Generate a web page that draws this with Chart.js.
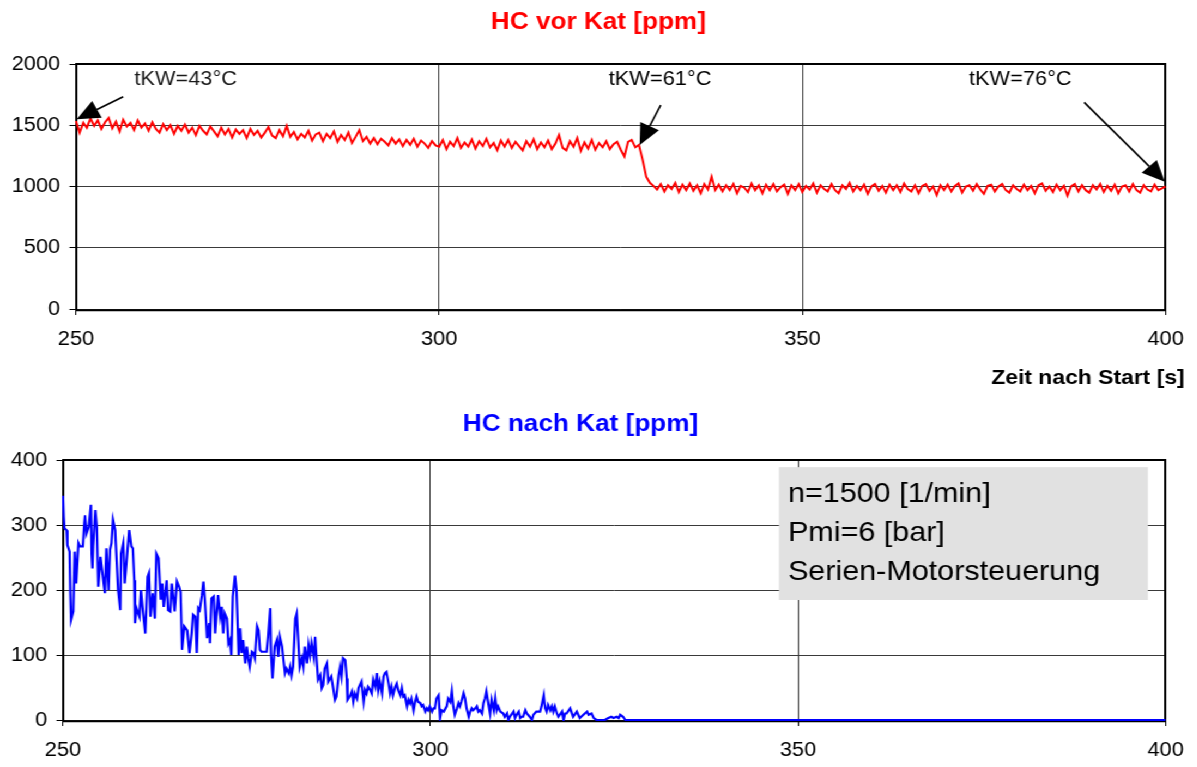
<!DOCTYPE html>
<html><head><meta charset="utf-8">
<script src="https://cdn.jsdelivr.net/npm/chart.js@4.4.0/dist/chart.umd.min.js"></script>
<style>
html,body{margin:0;padding:0;background:#fff;overflow:hidden;}
#wrap{position:absolute;left:0;top:0;width:1098px;height:767px;transform:scaleX(1.09);transform-origin:0 0;}
#c1{position:absolute;left:0;top:0;}
#c2{position:absolute;left:0;top:395px;}
</style></head><body>
<div id="wrap">
<canvas id="c1" width="1098" height="395"></canvas>
<canvas id="c2" width="1098" height="372"></canvas>
</div>
<script>
// ---------- data ----------
const xTicks = [250, 300, 350, 400];
const vorTicks = [0, 500, 1000, 1500, 2000];
const nachTicks = [0, 100, 200, 300, 400];

// HC vor Kat [ppm], sampled every 0.5 s from 250 s
const vorStart = 250, vorStep = 0.5;
const vorV = [
1535,1440,1520,1480,1555,1495,1540,1470,1525,1560,
1475,1530,1450,1545,1490,1520,1460,1540,1480,1515,
1455,1525,1470,1440,1510,1460,1500,1430,1495,1455,
1505,1440,1480,1420,1495,1455,1425,1490,1450,1410,
1480,1425,1470,1400,1465,1430,1460,1395,1470,1420,
1455,1400,1440,1485,1415,1395,1460,1410,1495,1405,
1445,1385,1430,1400,1455,1375,1425,1440,1370,1430,
1395,1450,1365,1420,1380,1440,1355,1405,1460,1370,
1405,1350,1395,1345,1390,1365,1335,1395,1350,1385,
1330,1380,1340,1390,1325,1375,1350,1315,1370,1335,
1325,1380,1305,1365,1330,1395,1315,1360,1325,1385,
1310,1370,1330,1390,1320,1355,1295,1375,1325,1380,
1315,1365,1330,1295,1370,1325,1385,1305,1360,1320,
1375,1305,1350,1420,1315,1295,1370,1325,1395,1290,
1360,1310,1380,1300,1355,1320,1370,1305,1345,1365,
1300,1245,1365,1380,1320,1340,1220,1080,1030,1005,
975,1020,960,1010,980,1030,955,1015,970,1025,
965,1010,945,1020,975,1080,970,1015,960,1010,
970,1020,945,1005,990,955,1025,970,1010,945,
1015,970,1020,960,995,1015,940,1010,970,1020,
955,1005,975,1025,950,1010,980,960,1020,970,
945,1010,980,1030,960,1005,970,1015,940,1000,
1020,965,1005,950,1015,970,1010,955,1025,980,
960,1010,945,1005,1020,965,1000,930,1010,970,
1015,960,1005,1025,950,1000,1010,965,1020,975,
940,1005,1015,960,1000,1020,970,950,1010,980,
960,1015,970,1005,945,1010,1025,965,1000,955,
1015,970,1005,925,1000,1020,960,1010,970,950,
1010,975,1020,955,1005,965,1015,945,1000,1010,
960,1020,970,950,1010,975,960,1015,970,985,
1000];

// HC nach Kat [ppm]: time [s] and value
const nachT = [
250.0,250.1,250.2,250.5,250.6,250.9,251.0,251.1,251.4,251.6,251.8,252.1,252.3,252.7,252.9,253.0,253.2,253.5,253.8,253.9,
254.0,254.1,254.4,254.6,254.8,255.1,255.4,255.7,255.9,256.2,256.4,256.6,256.8,257.1,257.3,257.5,257.8,257.9,258.2,258.4,
258.7,259.0,259.3,259.5,259.7,259.8,260.0,260.4,260.6,260.9,261.2,261.5,261.7,261.9,262.2,262.5,262.7,263.0,263.3,263.5,
263.7,264.1,264.3,264.6,264.8,265.0,265.2,265.5,265.8,266.0,266.2,266.5,266.7,266.9,267.2,267.5,267.7,268.0,268.2,268.4,
268.6,268.9,269.1,269.3,269.6,269.9,
270.0,270.2,270.5,270.7,270.9,271.1,271.4,271.6,271.8,272.0,272.3,272.5,272.7,272.9,273.1,273.4,273.6,273.9,274.1,274.3,
274.5,274.8,275.0,275.2,275.4,275.7,275.9,276.1,276.4,276.6,276.8,277.0,277.5,277.7,277.9,278.2,278.3,278.5,278.8,279.1,
279.3,279.5,279.8,280.0,280.2,280.4,280.7,280.9,281.1,281.3,281.6,281.8,282.0,282.2,282.5,282.7,282.9,283.2,283.4,283.6,
283.8,284.1,284.3,284.5,284.7,285.0,285.2,285.4,285.6,285.9,286.1,286.5,286.8,287.0,287.2,287.5,287.7,287.9,288.1,288.4,
288.6,288.7,
289.0,289.3,289.5,289.7,290.0,290.2,290.4,290.6,290.9,291.1,291.3,291.5,291.8,292.0,292.2,292.5,292.7,292.9,293.1,293.4,
293.6,293.8,294.0,294.3,294.5,294.7,294.9,295.2,295.4,295.6,295.9,296.1,296.3,296.5,296.8,297.0,297.2,297.4,297.7,297.9,
298.1,298.3,298.6,298.8,299.0,299.3,299.5,299.7,299.9,300.2,300.4,300.6,300.8,301.1,301.3,301.5,301.8,302.2,302.4,302.7,
302.9,303.1,303.3,303.6,303.8,304.0,304.2,304.5,304.7,304.9,305.2,305.4,305.6,305.8,306.1,306.3,306.5,306.7,307.0,307.2,
307.4,307.6,307.9,
308.1,308.3,308.6,308.8,309.0,309.2,309.5,309.9,310.1,310.4,310.6,310.8,311.3,311.5,311.7,312.0,312.2,312.4,312.6,312.9,
313.1,313.5,313.8,314.0,314.4,314.9,315.1,315.4,315.6,315.8,316.0,316.3,316.5,316.7,316.9,317.2,317.4,317.9,318.1,318.3,
318.5,319.0,319.4,319.9,320.3,320.8,321.3,321.5,321.9,322.2,322.6,323.1,323.7,324.2,324.6,324.9,325.3,325.6,325.8,326.2,
326.5,400.0];
const nachV = [
345,313,295,292,269,259,195,154,167,259,210,272,267,267,303,315,287,297,331,256,
233,267,323,297,205,251,223,195,264,200,262,272,308,292,244,200,169,256,272,210,
251,292,267,264,215,149,172,159,200,164,133,220,226,159,195,156,256,249,185,210,
174,215,169,167,210,190,167,213,205,197,108,144,141,138,103,133,162,159,103,172,
169,192,213,185,126,149,
118,187,190,133,164,192,159,174,133,164,156,118,123,100,190,222,200,100,141,103,
123,87,113,95,82,105,103,95,144,138,108,105,105,105,128,172,103,64,113,123,
97,128,113,92,72,79,72,82,69,82,156,164,123,82,95,82,113,87,115,100,
118,97,128,92,62,69,49,54,79,87,59,67,46,31,36,69,82,67,95,92,
64,31,
36,44,28,41,33,49,54,59,28,46,41,51,46,41,62,51,72,46,59,41,
67,72,74,56,41,51,38,51,56,46,38,49,36,38,21,31,26,33,15,28,
36,28,26,21,23,13,18,15,21,13,18,18,33,38,3,15,13,21,33,28,
44,21,8,18,26,21,28,41,33,18,5,13,18,15,18,21,13,15,10,26,
33,44,23,
10,31,15,33,15,21,13,10,5,10,0,5,13,3,8,13,3,5,5,15,
10,5,0,8,13,13,21,38,18,13,23,15,21,13,21,10,5,13,0,10,
10,18,5,13,3,8,13,8,10,3,0,0,0,3,5,3,5,3,8,5,
0,0];

// annotations (data coordinates: time, ppm)
const notes = [
  {text: 'tKW=43°C', tx: 265.1, ty: 1830, tail: [256.5, 1733], tip: [250.1, 1549]},
  {text: 'tKW=61°C', tx: 330.4, ty: 1830, tail: [330.5, 1665], tip: [327.6, 1339]},
  {text: 'tKW=76°C', tx: 380.0, ty: 1830, tail: [388.8, 1687], tip: [399.9, 1039]}
];
const infoLines = ['n=1500 [1/min]', 'Pmi=6 [bar]', 'Serien-Motorsteuerung'];

// ---------- rendering ----------
const FONT = '"Liberation Sans", Arial, sans-serif';
Chart.defaults.font.family = FONT;
Chart.defaults.color = '#000';

const vorData = vorV.map((v, i) => ({x: vorStart + i * vorStep, y: v}));
const nachData = nachV.map((v, i) => ({x: nachT[i], y: v}));

function frame(chart) {
  const a = chart.chartArea, ctx = chart.ctx;
  const l = Math.round(a.left), r = Math.round(a.right), t = Math.round(a.top), b = Math.round(a.bottom);
  ctx.save();
  ctx.strokeStyle = '#000';
  ctx.lineWidth = 2;
  ctx.beginPath();
  ctx.moveTo(l, b + 1.5); ctx.lineTo(l, t); ctx.lineTo(r, t); ctx.lineTo(r, b + 1.5);
  ctx.stroke();
  ctx.beginPath();
  ctx.moveTo(l - 1, b + 1.2); ctx.lineTo(r + 1, b + 1.2);
  ctx.stroke();
  ctx.restore();
}

function arrow(ctx, x1, y1, x2, y2) {
  const ang = Math.atan2(y2 - y1, x2 - x1);
  const L = 21, W = 9.5;
  const bx = x2 - L * Math.cos(ang), by = y2 - L * Math.sin(ang);
  ctx.beginPath(); ctx.moveTo(x1, y1); ctx.lineTo(bx, by);
  ctx.lineWidth = 1.6; ctx.strokeStyle = '#000'; ctx.stroke();
  ctx.beginPath(); ctx.moveTo(x2, y2);
  ctx.lineTo(bx + W * Math.sin(ang), by - W * Math.cos(ang));
  ctx.lineTo(bx - W * Math.sin(ang), by + W * Math.cos(ang));
  ctx.closePath(); ctx.fillStyle = '#000'; ctx.fill();
}

function xScaleOpts(h) {
  return {
    type: 'linear', min: 250, max: 400,
    afterBuildTicks: s => { s.ticks = xTicks.map(v => ({value: v})); },
    afterFit: s => { s.height = h; },
    ticks: {font: {size: 20}, color: '#000', padding: 12, maxRotation: 0, callback: v => String(v)},
    grid: {color: '#3a3a3a', lineWidth: 1, tickLength: 6, tickColor: '#000'},
    border: {display: false}
  };
}
function yScaleOpts(max, ticks, w) {
  return {
    min: 0, max: max,
    afterBuildTicks: s => { s.ticks = ticks.map(v => ({value: v})); },
    afterFit: s => { s.width = w; },
    ticks: {font: {size: 20}, color: '#000', padding: 8.5, callback: v => String(v)},
    grid: {color: '#3a3a3a', lineWidth: 1, tickLength: 6, tickColor: '#000'},
    border: {display: false}
  };
}

const topPlugin = {
  id: 'topDeco',
  beforeDatasetsDraw(chart) { frame(chart); },
  afterDraw(chart) {
    const ctx = chart.ctx, xs = chart.scales.x, ys = chart.scales.y;
    ctx.save();
    ctx.fillStyle = '#ff0000';
    ctx.font = 'bold 24px ' + FONT;
    ctx.textAlign = 'center'; ctx.textBaseline = 'alphabetic';
    ctx.fillText('HC vor Kat [ppm]', chart.width / 2, 28.5);
    ctx.fillStyle = '#000';
    ctx.font = 'bold 21px ' + FONT;
    ctx.textAlign = 'right';
    ctx.fillText('Zeit nach Start [s]', xs.right + 17.5, 384);
    ctx.font = '20px ' + FONT;
    ctx.textAlign = 'center';
    ctx.fillStyle = '#1a1a1a';
    notes.forEach(n => {
      ctx.fillText(n.text, xs.getPixelForValue(n.tx), ys.getPixelForValue(n.ty));
      arrow(ctx, xs.getPixelForValue(n.tail[0]), ys.getPixelForValue(n.tail[1]),
                 xs.getPixelForValue(n.tip[0]), ys.getPixelForValue(n.tip[1]));
    });
    ctx.restore();
  }
};

const bottomPlugin = {
  id: 'bottomDeco',
  beforeDatasetsDraw(chart) {
    const ctx = chart.ctx, xs = chart.scales.x, ys = chart.scales.y;
    const l = xs.getPixelForValue(347.4), r = xs.getPixelForValue(397.6);
    const t = ys.getPixelForValue(389), b = ys.getPixelForValue(184.6);
    ctx.save();
    ctx.fillStyle = '#e1e1e1';
    ctx.fillRect(l, t, r - l, b - t);
    ctx.fillStyle = '#000';
    ctx.font = '28px ' + FONT;
    ctx.textAlign = 'left'; ctx.textBaseline = 'alphabetic';
    infoLines.forEach((s, i) => ctx.fillText(s, l + 8.3, t + 35 + i * 39));
    ctx.restore();
    frame(chart);
  },
  afterDraw(chart) {
    const ctx = chart.ctx;
    ctx.save();
    ctx.fillStyle = '#0000ff';
    ctx.font = 'bold 24px ' + FONT;
    ctx.textAlign = 'center'; ctx.textBaseline = 'alphabetic';
    ctx.fillText('HC nach Kat [ppm]', 532.6, 36);
    ctx.restore();
  }
};

const common = {
  responsive: false, animation: false, events: [],
  plugins: {legend: {display: false}, tooltip: {enabled: false}, title: {display: false}},
  elements: {point: {radius: 0}, line: {tension: 0}}
};

new Chart(document.getElementById('c1'), {
  type: 'line',
  data: {datasets: [{data: vorData, borderColor: '#ff0000', borderWidth: 2, clip: 1, fill: false}]},
  options: Object.assign({}, common, {
    layout: {padding: {left: 0, right: 28.28, top: 64, bottom: 0}},
    scales: {x: xScaleOpts(86), y: yScaleOpts(2000, vorTicks, 69.72)}
  }),
  plugins: [topPlugin]
});

new Chart(document.getElementById('c2'), {
  type: 'line',
  data: {datasets: [{data: nachData, borderColor: '#0000ff', borderWidth: 2.2, clip: 1, fill: false}]},
  options: Object.assign({}, common, {
    layout: {padding: {left: 0, right: 28.28, top: 65, bottom: 0}},
    scales: {x: xScaleOpts(47), y: yScaleOpts(400, nachTicks, 57.8)}
  }),
  plugins: [bottomPlugin]
});
</script>
</body></html>
